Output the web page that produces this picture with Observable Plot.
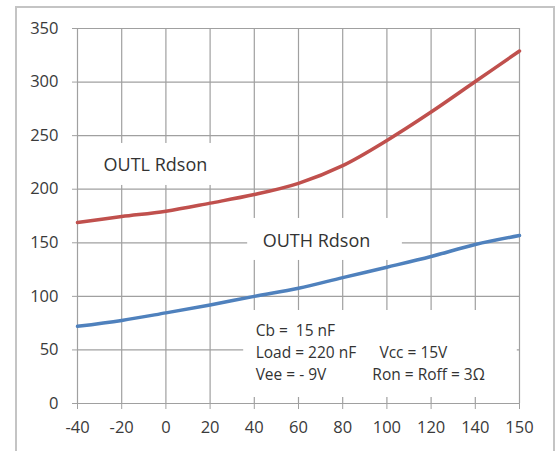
<!DOCTYPE html>
<html>
<head>
<meta charset="utf-8">
<script src="https://cdn.jsdelivr.net/npm/d3@7"></script>
<script src="https://cdn.jsdelivr.net/npm/@observablehq/plot@0.6"></script>
<style>
  html, body { margin: 0; padding: 0; background: #fff; overflow: hidden; }
  #wrap { position: relative; width: 559px; height: 451px; }
  #frame { position: absolute; left: 15px; top: 6px; width: 540px; height: 470px; border: 2px solid #c4c4c4; box-sizing: border-box; }
  #chart { position: absolute; left: 0; top: 0; }
</style>
</head>
<body>
<div id="wrap"><div id="frame"></div><div id="chart"></div></div>
<script>
// Temperature categories (equally spaced category axis)
const temps = [-40, -20, 0, 20, 40, 60, 80, 100, 120, 140, 150];
// OUTL Rdson (red)
const outl = [169, 174.5, 179.5, 187, 195, 205.5, 222, 245.5, 272, 300.5, 329];
// OUTH Rdson (blue)
const outh = [72, 77.5, 84.6, 92, 100, 107.5, 117.5, 127.2, 137.2, 148.4, 156.8];
// Y tick values
const yTicks = [0, 50, 100, 150, 200, 250, 300, 350];

const idx = temps.map((_, i) => i);
const rows = temps.map((t, i) => ({i, t, outl: outl[i], outh: outh[i]}));

// Label boxes (in axis units: category index / value)
const boxes = [
  {x1: 0.29, x2: 3.35, y1: 203.5, y2: 242.7},
  {x1: 3.85, x2: 7.35, y1: 133.5, y2: 172.7},
  {x1: 3.76, x2: 9.95, y1: 5.6, y2: 86.8}
];
const seriesLabels = [
  {x: 0.59, y: 222, text: "OUTL Rdson"},
  {x: 4.19, y: 151, text: "OUTH Rdson"}
];
const notes = [
  {x: 4.03, y: 68, text: "Cb =  15 nF"},
  {x: 4.03, y: 47, text: "Load = 220 nF"},
  {x: 6.83, y: 47, text: "Vcc = 15V"},
  {x: 4.03, y: 27, text: "Vee = - 9V"},
  {x: 6.67, y: 27, text: "Ron = Roff = 3Ω"}
];

const font = "'Open Sans', sans-serif";
const gridColor = "#a0a0a0";

const chart = Plot.plot({
  width: 559,
  height: 451,
  marginLeft: 77,
  marginRight: 40,
  marginTop: 28,
  marginBottom: 48,
  style: {fontFamily: font, background: "transparent", overflow: "visible"},
  x: {domain: [0, 10]},
  y: {domain: [0, 350]},
  marks: [
    Plot.gridX(idx, {stroke: gridColor, strokeOpacity: 1, strokeWidth: 1.2}),
    Plot.gridY(yTicks, {stroke: gridColor, strokeOpacity: 1, strokeWidth: 1.2}),
    Plot.axisX({ticks: idx, tickFormat: i => temps[i], tickSize: 6, tickPadding: 12,
      stroke: gridColor, fill: "#3a3a3a", fontSize: 16.5, label: null}),
    Plot.axisY({ticks: yTicks, tickSize: 5, tickPadding: 14,
      stroke: gridColor, fill: "#3a3a3a", fontSize: 16.5, label: null}),
    Plot.rect(boxes, {x1: "x1", x2: "x2", y1: "y1", y2: "y2", fill: "white"}),
    Plot.text(seriesLabels, {x: "x", y: "y", text: "text", textAnchor: "start",
      fontSize: 18, fill: "#333"}),
    Plot.text(notes, {x: "x", y: "y", text: "text", textAnchor: "start",
      fontSize: 15.5, fill: "#333"}),
    Plot.line(rows, {x: "i", y: "outl", stroke: "#C0504D", strokeWidth: 3.5, curve: "catmull-rom"}),
    Plot.line(rows, {x: "i", y: "outh", stroke: "#4F81BD", strokeWidth: 3.5, curve: "catmull-rom"})
  ]
});
document.getElementById("chart").appendChild(chart);
</script>
</body>
</html>
